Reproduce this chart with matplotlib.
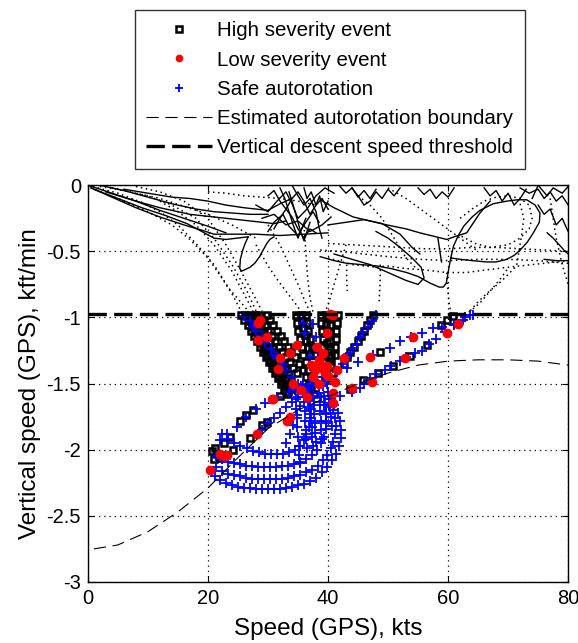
import numpy as np
import matplotlib.pyplot as plt

plt.rcParams['font.family'] = ['Liberation Sans', 'DejaVu Sans']

# ------- flight paths above the threshold (solid lines), kts / kft/min
sol1_x = [0.5, 4, 8, 12, 16, 19, 21, 24, 28, 32, 36, 40]
sol1_y = [-0.02, -0.09, -0.17, -0.24, -0.3, -0.34, -0.37, -0.37, -0.37, -0.38, -0.37, -0.36]
sol2_x = [1, 5, 9, 13, 16.5, 19, 21, 23, 26.7]
sol2_y = [-0.03, -0.1, -0.17, -0.23, -0.29, -0.35, -0.4, -0.41, -0.39]
sol3_x = [6, 10, 14, 17, 20, 23, 26, 28, 30, 32, 34]
sol3_y = [-0.03, -0.06, -0.09, -0.1, -0.12, -0.15, -0.17, -0.18, -0.19, -0.14, -0.1]
sol4_x = [3, 8, 12, 17, 21, 25, 29, 31, 33]
sol4_y = [-0.05, -0.12, -0.17, -0.22, -0.24, -0.26, -0.28, -0.29, -0.27]
sol20_x = [0, 4, 8, 12, 16, 20, 23]
sol20_y = [0, -0.06, -0.12, -0.19, -0.25, -0.31, -0.36]
sol21_x = [2, 6, 10, 14, 18, 21, 24, 27, 30]
sol21_y = [0, -0.04, -0.09, -0.14, -0.18, -0.2, -0.21, -0.22, -0.22]
leaf_x = [26.7, 26.2, 25.8, 25.4, 25.3, 25.6, 26.1, 27, 27.8, 28.6, 29.2, 29.8, 30.3, 31]
leaf_y = [-0.39, -0.44, -0.49, -0.56, -0.63, -0.65, -0.64, -0.62, -0.59, -0.54, -0.49, -0.44, -0.41, -0.39]
net1_x = [28, 30, 31.5, 33, 34, 35, 36.5, 38, 39.5, 41]
net1_y = [-0.15, -0.2, -0.12, -0.05, -0.14, -0.25, -0.18, -0.08, -0.02, -0.06]
net2_x = [30, 31, 32.5, 33.5, 35, 36, 37.5, 38.5]
net2_y = [-0.35, -0.28, -0.22, -0.31, -0.38, -0.3, -0.2, -0.28]
net3_x = [32, 32.8, 33.5, 34.2, 35, 35.6, 36.3]
net3_y = [-0.02, -0.1, -0.2, -0.3, -0.4, -0.33, -0.25]
net4_x = [29, 31, 33, 35, 37, 39, 40.5]
net4_y = [-0.25, -0.22, -0.3, -0.27, -0.35, -0.3, -0.24]
net5_x = [34, 35, 36, 37, 38, 38.5, 39]
net5_y = [0, -0.08, -0.15, -0.1, -0.2, -0.32, -0.4]
net6_x = [30, 31, 32, 33, 34, 35, 36, 37, 38, 39, 40]
net6_y = [-0.08, -0.04, -0.12, -0.18, -0.1, -0.05, -0.12, -0.22, -0.15, -0.1, -0.18]
net7_x = [31, 32, 33, 34, 35, 36, 37, 38]
net7_y = [-0.33, -0.25, -0.18, -0.24, -0.33, -0.4, -0.33, -0.36]
net8_x = [33.5, 34, 34.5, 35, 35.5, 36, 36.5, 37]
net8_y = [-0.05, -0.12, -0.2, -0.28, -0.36, -0.42, -0.35, -0.28]
net9_x = [36, 36.5, 37.2, 38, 38.6, 39.2, 40]
net9_y = [-0.02, -0.1, -0.05, -0.15, -0.08, -0.2, -0.12]
sol5_x = [38.7, 41, 44.2, 47, 49.8, 53, 55.3, 58, 59.8, 61, 63.1, 65.3, 67]
sol5_y = [-0.11, -0.17, -0.24, -0.27, -0.3, -0.33, -0.36, -0.39, -0.41, -0.39, -0.36, -0.21, -0.12]
loop6_x = [38.7, 41, 43.1, 45.5, 48.1, 50.5, 53.1, 55, 57, 58.5, 59.2, 59.7, 60, 60.4, 60.9, 61.7, 62.6,
           64, 65.3, 67.5, 69.8, 71.5, 73.1, 74.5, 75.3, 75.2, 74.2, 73.2, 72, 71, 69.8, 68, 66.4, 64, 62, 60.5]
loop6_y = [-0.54, -0.57, -0.59, -0.6, -0.61, -0.63, -0.66, -0.69, -0.74, -0.77, -0.77, -0.74, -0.66, -0.56,
           -0.46, -0.38, -0.31, -0.24, -0.19, -0.14, -0.12, -0.11, -0.11, -0.15, -0.21, -0.28, -0.36, -0.43,
           -0.49, -0.53, -0.56, -0.58, -0.58, -0.57, -0.56, -0.55]
sol7_x = [58.3, 58.5, 58.7, 58.9]
sol7_y = [-0.4, -0.46, -0.52, -0.58]
sol9_x = [76.5, 77.5, 78.5, 79.5, 80]
sol9_y = [-0.36, -0.4, -0.45, -0.5, -0.52]
sol10_x = [72, 73.5, 75, 76, 77, 78, 79, 80]
sol10_y = [-0.02, -0.06, -0.03, -0.1, -0.05, -0.12, -0.08, -0.15]
sol11_x = [74, 75, 76.5, 77.5, 79, 80]
sol11_y = [-0.1, 0, -0.08, -0.02, -0.06, -0.01]
sol12_x = [42, 43, 44, 45, 46, 47, 48]
sol12_y = [-0.01, -0.06, -0.02, -0.09, -0.04, -0.1, -0.03]
sol13_x = [55, 56, 57, 58, 59, 60, 61]
sol13_y = [-0.02, -0.07, -0.03, -0.1, -0.05, -0.09, -0.02]
sol14_x = [76, 78, 80]
sol14_y = [-0.56, -0.57, -0.57]
sol15_x = [40, 43, 46, 49, 52, 54, 55.3]
sol15_y = [-0.3, -0.28, -0.26, -0.29, -0.37, -0.47, -0.52]
sol16_x = [44, 45, 46, 47, 48, 49, 50, 51, 52]
sol16_y = [-0.02, -0.08, -0.15, -0.12, -0.05, -0.1, -0.03, -0.08, -0.02]
sol17_x = [66, 67, 68, 69, 70, 71, 72, 73]
sol17_y = [-0.02, -0.08, -0.04, -0.12, -0.06, -0.15, -0.1, -0.03]
sol18_x = [75, 76, 77, 78, 79, 80]
sol18_y = [-0.15, -0.22, -0.18, -0.3, -0.25, -0.35]
sol19_x = [48, 50, 52, 54, 55.5, 56, 55, 53, 50, 47, 44, 41]
sol19_y = [-0.35, -0.4, -0.47, -0.55, -0.62, -0.7, -0.75, -0.72, -0.66, -0.6, -0.56, -0.52]

# ------- flight paths above the threshold (dotted)
dot1_x = [0.5, 5, 10, 14, 17, 20, 22, 24, 25.5]
dot1_y = [-0.02, -0.1, -0.2, -0.3, -0.41, -0.55, -0.68, -0.82, -0.95]
dot2_x = [0, 5, 9, 12, 15, 18, 21, 23.5, 26.7]
dot2_y = [0, -0.06, -0.13, -0.2, -0.3, -0.44, -0.6, -0.78, -0.95]
dot3_x = [2, 6, 10, 14, 18, 21, 24, 26.5, 28]
dot3_y = [-0.01, -0.04, -0.08, -0.15, -0.25, -0.4, -0.6, -0.8, -0.95]
dot4_x = [8, 12, 16, 20, 23, 25.5, 27.5, 29]
dot4_y = [-0.01, -0.05, -0.12, -0.25, -0.45, -0.65, -0.82, -0.95]
dot5_x = [28, 30, 31.5, 33.3, 34.5, 35.6]
dot5_y = [-0.45, -0.61, -0.71, -0.82, -0.89, -0.96]
dot6_x = [30, 32, 33.5, 35, 36, 37]
dot6_y = [-0.3, -0.45, -0.6, -0.75, -0.86, -0.96]
dot7_x = [36, 36.3, 36.6, 37, 37.5]
dot7_y = [-0.3, -0.5, -0.7, -0.85, -0.96]
dot8_x = [43, 42, 41, 40.2, 39.5]
dot8_y = [-0.45, -0.6, -0.75, -0.88, -0.96]
dot9_x = [38.7, 42, 46, 50, 55.3, 60, 65, 69.8, 75, 80]
dot9_y = [-0.49, -0.5, -0.52, -0.54, -0.56, -0.57, -0.56, -0.56, -0.57, -0.59]
dot10_x = [40, 44, 48, 49.8, 53, 56, 59.8, 63, 66.4, 70, 74, 78, 80]
dot10_y = [-0.55, -0.6, -0.62, -0.61, -0.63, -0.64, -0.66, -0.66, -0.64, -0.62, -0.6, -0.58, -0.57]
dot11_x = [59.8, 59.9, 60, 60.2, 60.5]
dot11_y = [-0.66, -0.74, -0.82, -0.9, -0.97]
dot12_x = [69.8, 68.5, 67, 65.3, 64, 63.1]
dot12_y = [-0.64, -0.72, -0.8, -0.89, -0.94, -0.97]
dot13_x = [72, 72.6, 72.3, 71.4, 69, 66.4, 64.8, 63.5]
dot13_y = [-0.14, -0.25, -0.36, -0.61, -0.72, -0.82, -0.89, -0.96]
dot14_x = [48.7, 48.7, 48.6, 48.5]
dot14_y = [-0.6, -0.7, -0.8, -0.89]
dot15_x = [43.1, 43.1, 43.2]
dot15_y = [-0.6, -0.7, -0.8]
dot16_x = [62, 64, 66, 68, 70, 72, 73.5, 74, 73.5, 72, 70, 67, 64.5, 62]
dot16_y = [-0.25, -0.18, -0.12, -0.09, -0.08, -0.1, -0.15, -0.25, -0.33, -0.4, -0.45, -0.47, -0.44, -0.38]
dot17_x = [40, 44, 48, 52, 56, 60, 64, 68, 72, 76, 80]
dot17_y = [-0.44, -0.45, -0.46, -0.47, -0.48, -0.48, -0.47, -0.47, -0.48, -0.49, -0.5]
dot18_x = [4, 8, 12, 16, 20, 24, 28]
dot18_y = [-0.02, -0.06, -0.1, -0.16, -0.22, -0.3, -0.4]
dot19_x = [77, 77.5, 78, 79, 80]
dot19_y = [-0.1, -0.25, -0.4, -0.6, -0.75]
dot20_x = [45, 47, 49, 51, 53, 54.5]
dot20_y = [-0.08, -0.15, -0.25, -0.4, -0.55, -0.62]
dot21_x = [20, 23, 26, 29, 32, 35, 38]
dot21_y = [-0.05, -0.06, -0.08, -0.09, -0.1, -0.12, -0.15]
dot22_x = [12, 15, 18, 21, 24, 27.5]
dot22_y = [-0.12, -0.2, -0.3, -0.45, -0.65, -0.95]
dot23_x = [50, 53, 56, 59, 62, 65]
dot23_y = [-0.02, -0.1, -0.2, -0.3, -0.4, -0.5]

# ------- high severity events (squares)
hs_band1_x = [25.5, 26, 26.6, 27.1, 27.6, 28.1, 28.6, 29.1, 29.6, 30.1, 30.6, 31.1, 31.6, 32.1, 32.6, 33.1]
hs_band1_y = [-0.98, -1.02, -1.06, -1.1, -1.14, -1.18, -1.22, -1.26, -1.3, -1.34, -1.38, -1.42, -1.46, -1.5, -1.54, -1.58]
hs_band2_x = [27, 27.5, 28, 28.5, 29, 29.5, 30, 30.5, 31, 31.5, 32, 32.5, 33, 33.5, 34]
hs_band2_y = [-0.98, -1.02, -1.06, -1.1, -1.14, -1.18, -1.22, -1.26, -1.3, -1.34, -1.38, -1.42, -1.46, -1.5, -1.54]
hs_band3_x = [28.5, 29, 29.5, 30, 30.6, 31.2, 31.8, 32.4, 33, 33.6, 34.2, 34.8]
hs_band3_y = [-0.98, -1.02, -1.06, -1.1, -1.14, -1.18, -1.22, -1.26, -1.3, -1.34, -1.38, -1.42]
hs_band4_x = [29.8, 30.3, 30.9, 31.5, 32.1, 32.7, 33.3, 33.9, 34.5, 35.1]
hs_band4_y = [-0.98, -1.02, -1.06, -1.1, -1.14, -1.18, -1.22, -1.26, -1.3, -1.35]
hs_band5_x = [26.2, 26.8, 27.3, 27.9, 28.4, 28.9, 29.4, 29.9, 30.4, 30.9, 31.4, 31.9, 32.4, 32.9, 33.4]
hs_band5_y = [-0.98, -1.03, -1.07, -1.11, -1.15, -1.19, -1.24, -1.28, -1.32, -1.36, -1.4, -1.44, -1.48, -1.52, -1.56]
hs_band6_x = [27.8, 28.3, 28.8, 29.3, 29.8, 30.3, 30.8, 31.3, 31.8, 32.3, 32.8, 33.3, 33.8]
hs_band6_y = [-0.98, -1.03, -1.07, -1.11, -1.15, -1.19, -1.23, -1.27, -1.31, -1.35, -1.39, -1.43, -1.47]
hs_mid1_x = [34.6, 34.8, 35, 35.3, 35.6, 35.9, 36.3, 36.7, 37.1]
hs_mid1_y = [-0.98, -1.04, -1.1, -1.16, -1.22, -1.28, -1.34, -1.4, -1.46]
hs_mid2_x = [36.4, 36.5, 36.7, 37, 37.4, 37.8]
hs_mid2_y = [-0.98, -1.04, -1.1, -1.16, -1.22, -1.28]
hs_mid3_x = [38.8, 38.9, 39, 39.1, 39.2, 39.3, 39.4, 39.5, 39.6]
hs_mid3_y = [-0.98, -1.04, -1.1, -1.16, -1.22, -1.28, -1.34, -1.4, -1.46]
hs_mid4_x = [40.2, 40.3, 40.3, 40.4, 40.4, 40.5, 40.5, 40.6]
hs_mid4_y = [-1.0, -1.06, -1.12, -1.18, -1.24, -1.3, -1.36, -1.42]
hs_mid5_x = [41.6, 41.5, 41.4, 41.3, 41.2, 41.1]
hs_mid5_y = [-0.98, -1.04, -1.1, -1.16, -1.22, -1.28]
hs_mid6_x = [35.5, 35.7, 35.9, 36.1, 36.4, 36.7, 37]
hs_mid6_y = [-0.98, -1.03, -1.08, -1.13, -1.18, -1.23, -1.28]
hs_mid7_x = [39.6, 39.7, 39.8, 39.9, 40, 40.1]
hs_mid7_y = [-0.98, -1.05, -1.12, -1.19, -1.26, -1.33]
hs_right_x = [47.5, 47, 46.5, 46, 45.5, 45, 44.3, 43.7, 43.2, 42.6]
hs_right_y = [-0.98, -1.02, -1.06, -1.1, -1.14, -1.18, -1.22, -1.26, -1.3, -1.35]
hs_diagB_x = [60.8, 59.8, 58.8, 56.5, 53.7, 50.9, 48.4, 45.9, 43.7]
hs_diagB_y = [-0.99, -1.02, -1.06, -1.21, -1.29, -1.37, -1.42, -1.47, -1.54]
hs_diagA_x = [48.7, 32, 27.5, 26.4, 25.3, 23.7, 22.6, 21.2, 20.6]
hs_diagA_y = [-1.26, -1.59, -1.7, -1.74, -1.78, -1.9, -1.95, -1.99, -2.01]
hs_low_x = [29.8, 29, 27, 24.2, 23, 22, 21.5, 21]
hs_low_y = [-1.79, -1.81, -1.91, -2.0, -2.04, -2.06, -2.03, -2.07]
hs_c_x = [35.8, 36.3, 36.8, 37.2, 37.6]
hs_c_y = [-1.4, -1.45, -1.5, -1.54, -1.58]

# ------- low severity events (red dots)
ls_x = [28.7, 28.4, 28.4, 29.8, 34.8, 32, 31.7, 33.7, 30.9, 38.1, 39.2, 40.3, 40.9, 42.6, 37.8,
        39.8, 41.2, 40.9, 40.9, 33.7, 30.6, 28.1, 20.3, 22.6, 47, 59.8, 61.7, 47.3, 54.2, 52.8,
        39.8, 38.7, 39.5, 34.2, 33.1, 44, 22, 23.1, 37.5, 38.5, 36.5, 35.5,
        38.5, 39, 40, 41.5, 37.2]
ls_y = [-1.02, -1.04, -1.17, -1.15, -1.21, -1.31, -1.39, -1.27, -1.62, -1.22, -1.27, -0.97, -0.98, -1.31, -1.4,
        -1.37, -1.49, -1.57, -1.65, -1.75, -1.62, -1.88, -2.15, -2.05, -1.3, -1.12, -1.05, -1.49, -1.15, -1.31,
        -1.12, -1.35, -1.42, -1.5, -1.78, -1.53, -2.03, -2.04, -1.45, -1.5, -1.6, -1.55,
        -1.32, -1.38, -1.44, -1.4, -1.36]

# ------- safe autorotation (blue +)
sa_band_x = [26, 27, 27.5, 28, 29, 29.5, 30.5, 31, 31.5, 32.5, 33, 34, 35, 36, 37]
sa_band_y = [-0.99, -1.03, -1.07, -1.1, -1.14, -1.19, -1.24, -1.28, -1.3, -1.35, -1.4, -1.45, -1.5, -1.55, -1.6]
sa_lineA_x = [64.2, 62.5, 61, 59, 57.5, 55.7, 53.8, 52, 50.3, 47.5, 45, 43.2, 41.5, 39.5, 37.5, 35.5,
              33.5, 31.5, 29.5, 28, 26.4, 24.8, 23.1, 22]
sa_lineA_y = [-0.98, -1.02, -1.05, -1.07, -1.08, -1.12, -1.15, -1.18, -1.23, -1.28, -1.34, -1.38, -1.41, -1.45,
              -1.48, -1.52, -1.56, -1.6, -1.65, -1.69, -1.75, -1.83, -1.88, -1.93]
sa_lineB_x = [63.7, 62.8, 61, 59.5, 58, 56.8, 55.7, 54.5, 53, 52, 50.5, 49.5, 48, 47, 46, 45.3, 44, 42, 40.5]
sa_lineB_y = [-0.98, -1.0, -1.06, -1.11, -1.16, -1.2, -1.25, -1.27, -1.3, -1.33, -1.37, -1.4, -1.43, -1.46,
              -1.5, -1.53, -1.56, -1.59, -1.62]
sa_steep_x = [48, 47.3, 46.6, 45.9, 45.3, 44.8, 44.2, 43.7, 43.1, 42.5]
sa_steep_y = [-0.98, -1.03, -1.07, -1.11, -1.15, -1.2, -1.23, -1.27, -1.31, -1.35]
sa_mid_x = [37.5, 38, 38.3, 38.6, 39, 39.4, 37, 37.6, 35.9, 36.2]
sa_mid_y = [-1.05, -1.15, -1.25, -1.3, -1.38, -1.45, -1.3, -1.4, -1.04, -1.12]
loop1_x = [22.3, 23.3, 24.3, 25.3, 26.5, 27.5, 28.5, 29.5, 30.5, 31.5, 32.5, 33.5, 34.5, 35.3, 36, 36.4,
           36.8, 37, 37, 36.8, 36.6]
loop1_y = [-1.88, -1.92, -1.95, -1.97, -1.99, -2.01, -2.02, -2.03, -2.03, -2.03, -2.03, -2.02, -2.0, -1.97,
           -1.93, -1.88, -1.83, -1.78, -1.73, -1.68, -1.63]
loop2_x = [21.4, 22.4, 23.4, 24.4, 25.4, 26.4, 27.4, 28.4, 29.4, 30.4, 31.4, 32.4, 33.4, 34.4, 35.4, 36.4,
           37.3, 38.1, 38.8, 39.3, 39.6, 39.7, 39.6, 39.3, 38.9]
loop2_y = [-2.05, -2.07, -2.09, -2.1, -2.11, -2.12, -2.12, -2.13, -2.13, -2.13, -2.13, -2.12, -2.12, -2.11,
           -2.09, -2.07, -2.04, -2.0, -1.95, -1.9, -1.84, -1.78, -1.72, -1.66, -1.6]
loop3_x = [21.4, 22.4, 23.4, 24.4, 25.4, 26.4, 27.4, 28.4, 29.4, 30.4, 31.4, 32.4, 33.4, 34.4, 35.4, 36.4,
           37.4, 38.3, 39.2, 39.9, 40.5, 40.9, 41.2, 41.3, 41.2, 40.9, 40.5]
loop3_y = [-2.13, -2.16, -2.18, -2.19, -2.2, -2.21, -2.22, -2.22, -2.22, -2.22, -2.22, -2.22, -2.21, -2.2,
           -2.19, -2.17, -2.15, -2.12, -2.08, -2.04, -1.99, -1.94, -1.88, -1.82, -1.76, -1.7, -1.65]
loop4_x = [21.2, 22, 23, 24, 25, 26, 27, 28, 29, 30, 31, 32, 33, 34, 35, 36, 37, 38, 39, 39.9, 40.7,
           41.3, 41.8, 42.1, 42.2, 42, 41.6, 41]
loop4_y = [-2.2, -2.23, -2.25, -2.27, -2.28, -2.29, -2.29, -2.3, -2.3, -2.3, -2.3, -2.3, -2.29, -2.28,
           -2.27, -2.26, -2.24, -2.21, -2.17, -2.13, -2.08, -2.03, -1.97, -1.91, -1.85, -1.78, -1.72, -1.66]
cv1_x = [34.5, 34.6, 34.7, 34.8, 34.9, 35, 35.1, 35.2, 35.3]
cv1_y = [-1.55, -1.62, -1.69, -1.76, -1.83, -1.9, -1.97, -2.04, -2.1]
cv2_x = [35.8, 35.9, 36, 36.1, 36.2, 36.3, 36.4, 36.5]
cv2_y = [-1.5, -1.57, -1.64, -1.71, -1.78, -1.85, -1.92, -1.99]
cv3_x = [37.3, 37.4, 37.5, 37.6, 37.7, 37.8, 37.9, 38]
cv3_y = [-1.45, -1.52, -1.59, -1.66, -1.73, -1.8, -1.87, -1.94]
cv4_x = [38.4, 38.5, 38.6, 38.7, 38.8, 38.9, 39]
cv4_y = [-1.5, -1.57, -1.64, -1.71, -1.78, -1.85, -1.92]
cv5_x = [39.8, 40, 40.2, 40.4, 40.5, 40.6]
cv5_y = [-1.5, -1.56, -1.62, -1.68, -1.75, -1.82]
cv6_x = [29, 30, 31, 32, 33, 34, 35, 36, 37]
cv6_y = [-1.85, -1.8, -1.76, -1.72, -1.68, -1.64, -1.6, -1.56, -1.52]
cv7_x = [33, 33.6, 34.2, 34.8, 35.4, 36, 36.6]
cv7_y = [-1.95, -1.88, -1.81, -1.74, -1.67, -1.6, -1.53]
cv8_x = [36.8, 37, 37.1, 37.2, 37.3, 37.4, 37.5]
cv8_y = [-1.55, -1.62, -1.69, -1.76, -1.83, -1.9, -1.97]
cv9_x = [39, 39.2, 39.4, 39.5, 39.6, 39.7]
cv9_y = [-1.45, -1.52, -1.59, -1.66, -1.73, -1.8]

# ------- estimated boundary and threshold
bnd_x = [1, 5, 10, 15, 20, 25, 30, 35, 40, 45, 50, 55, 60, 65, 70, 75, 80]
bnd_y = [-2.75, -2.72, -2.62, -2.47, -2.29, -2.06, -1.84, -1.7, -1.6, -1.5, -1.42, -1.36, -1.33, -1.32,
         -1.32, -1.33, -1.36]
seuil = -0.97

solid_paths = [(sol1_x, sol1_y), (sol2_x, sol2_y), (sol3_x, sol3_y), (sol4_x, sol4_y), (sol20_x, sol20_y),
               (sol21_x, sol21_y), (leaf_x, leaf_y), (net1_x, net1_y), (net2_x, net2_y), (net3_x, net3_y),
               (net4_x, net4_y), (net5_x, net5_y), (net6_x, net6_y), (net7_x, net7_y), (net8_x, net8_y),
               (net9_x, net9_y), (sol5_x, sol5_y), (loop6_x, loop6_y), (sol7_x, sol7_y), (sol9_x, sol9_y),
               (sol10_x, sol10_y), (sol11_x, sol11_y), (sol12_x, sol12_y), (sol13_x, sol13_y),
               (sol14_x, sol14_y), (sol15_x, sol15_y), (sol16_x, sol16_y), (sol17_x, sol17_y),
               (sol18_x, sol18_y), (sol19_x, sol19_y)]
dotted_paths = [(dot1_x, dot1_y), (dot2_x, dot2_y), (dot3_x, dot3_y), (dot4_x, dot4_y), (dot5_x, dot5_y),
                (dot6_x, dot6_y), (dot7_x, dot7_y), (dot8_x, dot8_y), (dot9_x, dot9_y), (dot10_x, dot10_y),
                (dot11_x, dot11_y), (dot12_x, dot12_y), (dot13_x, dot13_y), (dot14_x, dot14_y),
                (dot15_x, dot15_y), (dot16_x, dot16_y), (dot17_x, dot17_y), (dot18_x, dot18_y),
                (dot19_x, dot19_y), (dot20_x, dot20_y), (dot21_x, dot21_y), (dot22_x, dot22_y),
                (dot23_x, dot23_y)]
high_sets = [(hs_band1_x, hs_band1_y), (hs_band2_x, hs_band2_y), (hs_band3_x, hs_band3_y),
             (hs_band4_x, hs_band4_y), (hs_band5_x, hs_band5_y), (hs_band6_x, hs_band6_y),
             (hs_mid1_x, hs_mid1_y), (hs_mid2_x, hs_mid2_y), (hs_mid3_x, hs_mid3_y),
             (hs_mid4_x, hs_mid4_y), (hs_mid5_x, hs_mid5_y), (hs_mid6_x, hs_mid6_y),
             (hs_mid7_x, hs_mid7_y), (hs_right_x, hs_right_y), (hs_diagB_x, hs_diagB_y),
             (hs_diagA_x, hs_diagA_y), (hs_low_x, hs_low_y), (hs_c_x, hs_c_y)]
safe_sets = [(sa_band_x, sa_band_y), (sa_lineA_x, sa_lineA_y), (sa_lineB_x, sa_lineB_y),
             (sa_steep_x, sa_steep_y), (sa_mid_x, sa_mid_y), (loop1_x, loop1_y), (loop2_x, loop2_y),
             (loop3_x, loop3_y), (loop4_x, loop4_y), (cv1_x, cv1_y), (cv2_x, cv2_y), (cv3_x, cv3_y),
             (cv4_x, cv4_y), (cv5_x, cv5_y), (cv6_x, cv6_y), (cv7_x, cv7_y), (cv8_x, cv8_y), (cv9_x, cv9_y)]

fig = plt.figure(figsize=(5.78, 6.43), dpi=100)
ax = fig.add_axes([0.152, 0.0949, 0.831, 0.617])

for px, py in solid_paths:
    ax.plot(px, py, '-', color='k', lw=1.0)
for px, py in dotted_paths:
    ax.plot(px, py, color='k', lw=1.1, dashes=(1, 2.3))

# markers
hs_x = np.concatenate([s[0] for s in high_sets])
hs_y = np.concatenate([s[1] for s in high_sets])
sa_x = np.concatenate([s[0] for s in safe_sets])
sa_y = np.concatenate([s[1] for s in safe_sets])
h1, = ax.plot(hs_x, hs_y, 's', ms=5, mfc='none', mec='k', mew=1.8, label='High severity event')
h3, = ax.plot(sa_x, sa_y, '+', ms=7, color='b', mew=1.3, label='Safe autorotation')
h2, = ax.plot(ls_x, ls_y, 'o', ms=6, color='r', mec='r', label='Low severity event')

h4, = ax.plot(bnd_x, bnd_y, color='k', lw=0.8, dashes=(11, 6), label='Estimated autorotation boundary')
h5 = ax.axhline(seuil, color='k', lw=2.4, dashes=(5.5, 2.2), label='Vertical descent speed threshold')

ax.set_xlim(0, 80)
ax.set_ylim(-3, 0)
ax.set_xticks([0, 20, 40, 60, 80])
ax.set_yticks([-3, -2.5, -2, -1.5, -1, -0.5, 0])
ax.set_yticklabels(['-3', '-2.5', '-2', '-1.5', '-1', '-0.5', '0'])
ax.grid(True, color='k', lw=0.9, dashes=(1, 3.2))
ax.tick_params(direction='in', top=True, right=True, length=4, labelsize=14.5, pad=5)
for sp in ax.spines.values():
    sp.set_linewidth(1.0)
ax.set_xlabel('Speed (GPS), kts', fontsize=17.5, labelpad=7)
ax.set_ylabel('Vertical speed (GPS), kft/min', fontsize=17.5, labelpad=4)

fig.legend(handles=[h1, h2, h3, h4, h5], loc='upper left', bbox_to_anchor=(135 / 578, 1 - 10 / 643),
           borderaxespad=0, fontsize=14.8, frameon=True, fancybox=False, edgecolor='k',
           handlelength=3.2, handletextpad=0.25, labelspacing=0.5, borderpad=0.55, markerscale=0.75)
fig.legends[0].get_frame().set_linewidth(1.0)

plt.savefig('out.png', dpi=100)
